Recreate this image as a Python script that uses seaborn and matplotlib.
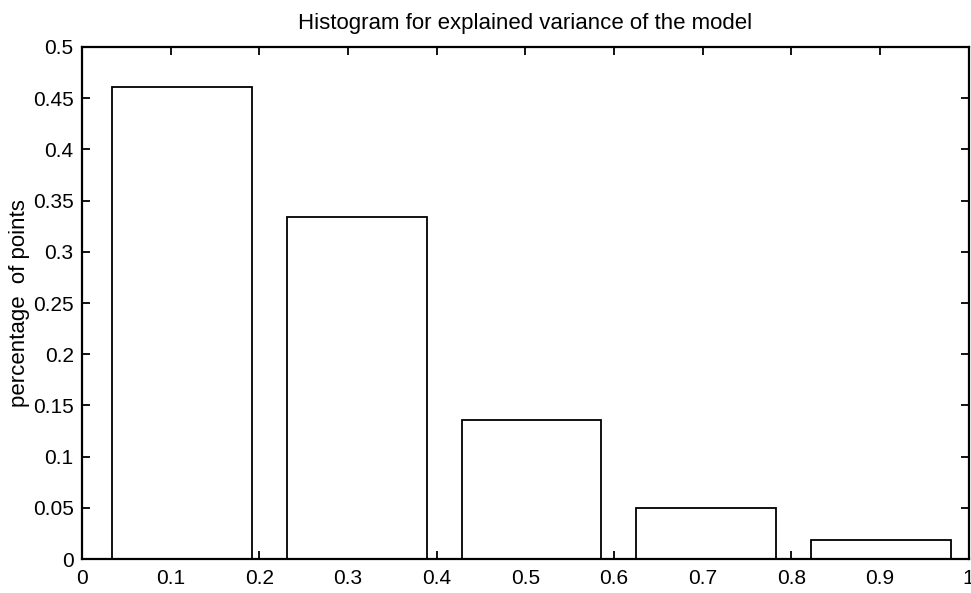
import matplotlib
matplotlib.use("Agg")
import matplotlib.pyplot as plt
import seaborn as sns
import pandas as pd
import numpy as np

# data
bin_centers = [0.113, 0.310, 0.507, 0.704, 0.901]
fractions = [0.461, 0.334, 0.136, 0.050, 0.019]
x_ticks = [0, 0.1, 0.2, 0.3, 0.4, 0.5, 0.6, 0.7, 0.8, 0.9, 1]
x_tick_labels = ["0", "0.1", "0.2", "0.3", "0.4", "0.5", "0.6", "0.7", "0.8", "0.9", "1"]
y_ticks = [0, 0.05, 0.1, 0.15, 0.2, 0.25, 0.3, 0.35, 0.4, 0.45, 0.5]
y_tick_labels = ["0", "0.05", "0.1", "0.15", "0.2", "0.25", "0.3", "0.35", "0.4", "0.45", "0.5"]
title = "Histogram for explained variance of the model"
ylabel = "percentage  of points"

sns.set_theme(style="ticks")
plt.rcParams["font.family"] = ["Liberation Sans", "DejaVu Sans"]
plt.rcParams["text.color"] = "black"
plt.rcParams["axes.labelcolor"] = "black"

df = pd.DataFrame({"center": bin_centers, "fraction": fractions})

fig = plt.figure(figsize=(9.71, 5.93), dpi=100)
ax = fig.add_axes([0.0845, 0.057, 0.913, 0.864])

sns.barplot(data=df, x="center", y="fraction", native_scale=True, width=0.8,
            color="white", edgecolor="black", linewidth=1.3, saturation=1, ax=ax)

ax.set_xlim(0, 1)
ax.set_ylim(0, 0.5)
ax.set_xticks(x_ticks)
ax.set_xticklabels(x_tick_labels)
ax.set_yticks(y_ticks)
ax.set_yticklabels(y_tick_labels)
ax.tick_params(direction="in", top=True, right=True, length=6, width=1.3,
               labelsize=15, colors="black")
ax.tick_params(axis="x", pad=7)
ax.tick_params(axis="y", pad=6)
for sp in ax.spines.values():
    sp.set_linewidth(1.6)
    sp.set_color("black")
    sp.set_visible(True)
ax.set_xlabel("")
ax.set_ylabel(ylabel, fontsize=16, labelpad=2, color="black")
ax.set_title(title, fontsize=16, pad=13, color="black")

fig.savefig("out.png", dpi=100)
